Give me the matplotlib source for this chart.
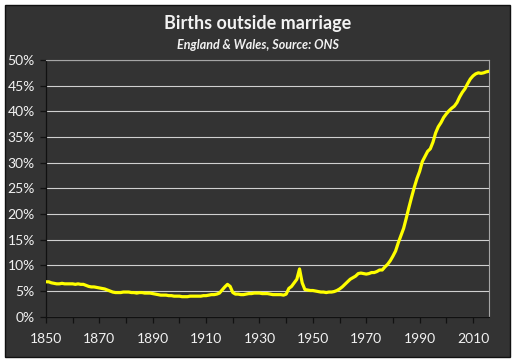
import numpy as np
import matplotlib
matplotlib.use("Agg")
import matplotlib.pyplot as plt
from matplotlib.patches import Rectangle
from matplotlib.ticker import FuncFormatter

# births outside marriage, % of live births, England & Wales
years = list(range(1850, 2017))
pct = [
    6.8, 6.8, 6.6, 6.5, 6.4, 6.4, 6.5, 6.4, 6.4, 6.4,   # 1850s
    6.4, 6.3, 6.4, 6.3, 6.3, 6.1, 5.9, 5.8, 5.8, 5.7,   # 1860s
    5.6, 5.5, 5.4, 5.2, 5.0, 4.8, 4.7, 4.7, 4.7, 4.8,   # 1870s
    4.8, 4.8, 4.7, 4.7, 4.6, 4.7, 4.7, 4.6, 4.6, 4.6,   # 1880s
    4.5, 4.4, 4.3, 4.2, 4.2, 4.2, 4.1, 4.1, 4.0, 4.0,   # 1890s
    4.0, 3.9, 3.9, 3.9, 4.0, 4.0, 4.0, 4.0, 4.0, 4.1,   # 1900s
    4.1, 4.2, 4.3, 4.3, 4.4, 4.6, 5.2, 5.8, 6.3, 5.9,   # 1910s
    4.7, 4.4, 4.4, 4.3, 4.3, 4.4, 4.5, 4.5, 4.6, 4.6,   # 1920s
    4.6, 4.5, 4.5, 4.5, 4.4, 4.3, 4.3, 4.3, 4.3, 4.2,   # 1930s
    4.4, 5.5, 5.9, 6.6, 7.3, 9.3, 6.6, 5.3, 5.2, 5.1,   # 1940s
    5.1, 5.0, 4.9, 4.8, 4.8, 4.7, 4.8, 4.8, 4.9, 5.1,   # 1950s
    5.4, 5.8, 6.3, 6.8, 7.3, 7.6, 7.9, 8.4, 8.5, 8.4,   # 1960s
    8.3, 8.4, 8.6, 8.6, 8.8, 9.1, 9.1, 9.7, 10.2, 10.9, # 1970s
    11.8, 12.8, 14.4, 15.8, 17.2, 19.2, 21.3, 23.3, 25.2, 26.9,  # 1980s
    28.3, 30.2, 31.2, 32.2, 32.7, 34.0, 35.8, 37.0, 37.8, 38.8,  # 1990s
    39.5, 40.1, 40.6, 41.0, 41.7, 42.8, 43.7, 44.4, 45.4, 46.3,  # 2000s
    46.9, 47.3, 47.5, 47.4, 47.5, 47.7, 47.8,                    # 2010s
]

title = "Births outside marriage"
subtitle = "England & Wales, Source: ONS"

bg = "#333333"
fg = "#f2f2f2"
plt.rcParams['font.family'] = ['Lato', 'DejaVu Sans']

fig = plt.figure(figsize=(5.16, 3.62), dpi=100)
fig.patch.set_facecolor("white")
fig.patches.append(Rectangle((5 / 516, 5 / 362), 505 / 516, 352 / 362,
                             transform=fig.transFigure, facecolor=bg,
                             edgecolor="#111111", linewidth=1, zorder=-10))

ax = fig.add_axes([46 / 516, (362 - 316.7) / 362, 443 / 516, 256.7 / 362])
ax.set_facecolor(bg)
ax.plot(years, np.array(pct) / 100, color="#ffff00", linewidth=2.3, zorder=3,
        solid_joinstyle="round")

ax.set_xlim(1850, 2016)
ax.set_ylim(0, 0.5)
ax.set_yticks(np.arange(0, 0.51, 0.05))
ax.yaxis.set_major_formatter(FuncFormatter(lambda v, p: "%d%%" % round(v * 100)))
xt = list(range(1850, 2016, 10))
ax.set_xticks(xt)
ax.set_xticklabels([str(y) if (y - 1850) % 20 == 0 else "" for y in xt])

ax.grid(axis="y", color="#d0d0d0", linewidth=0.8)
ax.set_axisbelow(True)
for s in ["top", "right"]:
    ax.spines[s].set_color("#a6a6a6")
    ax.spines[s].set_linewidth(0.8)
for s in ["left", "bottom"]:
    ax.spines[s].set_color("#111111")
    ax.spines[s].set_linewidth(0.9)
ax.tick_params(axis="both", colors="#111111", length=4, width=0.9,
               labelcolor=fg, labelsize=10)
ax.tick_params(axis="x", pad=8)
ax.tick_params(axis="y", pad=4)

fig.text(0.5, 1 - 23 / 362, title, ha="center", va="center", color=fg,
         fontsize=13, fontweight="bold")
fig.text(0.5, 1 - 45 / 362, subtitle, ha="center", va="center", color=fg,
         fontsize=9, fontweight="bold", style="italic")

fig.savefig("out.png", dpi=100, facecolor=fig.get_facecolor())
